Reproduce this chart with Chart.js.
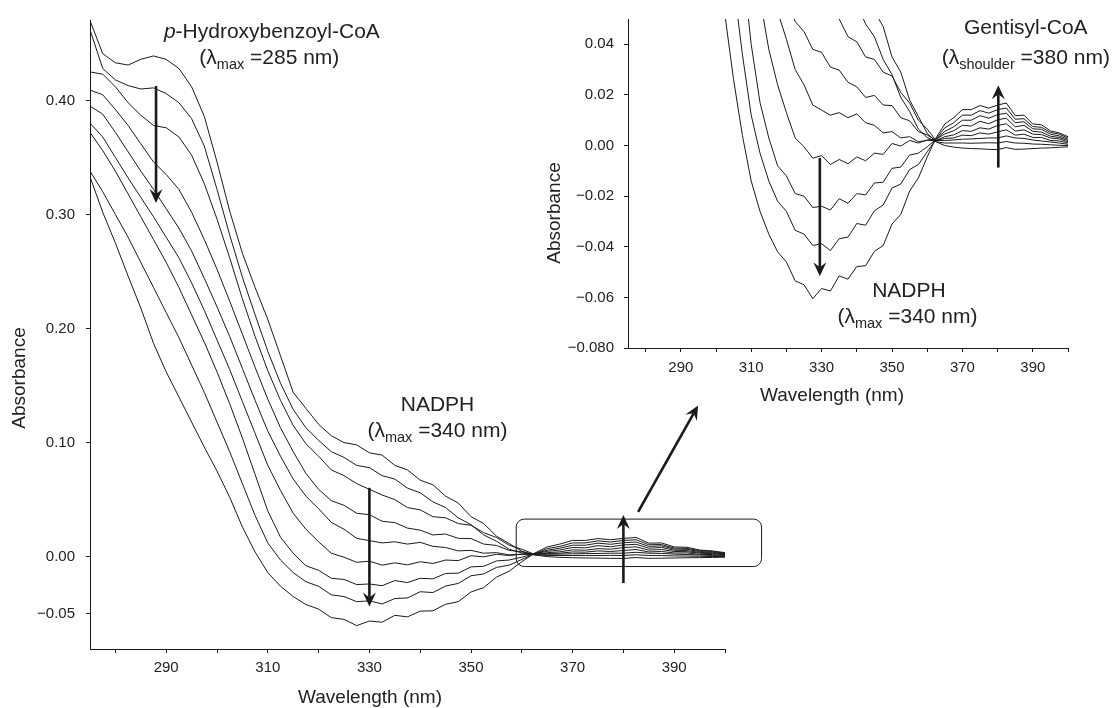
<!DOCTYPE html>
<html>
<head>
<meta charset="utf-8">
<script src="https://cdn.jsdelivr.net/npm/chart.js@4.4.0/dist/chart.umd.min.js"></script>
<style>
html, body { margin: 0; padding: 0; background: #fff; }
#wrap { position: relative; width: 1113px; height: 708px; }
#main { position: absolute; left: 0; top: 0; }
#inset { position: absolute; left: 540px; top: 0; }
</style>
</head>
<body>
<div id="wrap">
<canvas id="main" width="1113" height="708"></canvas>
<canvas id="inset" width="573" height="420"></canvas>
</div>
<script>
// wavelength grid (nm)
var wavelengths = [275, 277.5, 280, 282.5, 285, 287.5, 290, 292.5, 295, 297.5, 300, 302.5, 305, 307.5, 310, 312.5,
    315, 317.5, 320, 322.5, 325, 327.5, 330, 332.5, 335, 337.5, 340, 342.5, 345, 347.5, 350, 352.5, 355, 357.5,
    360, 362.5, 365, 367.5, 370, 372.5, 375, 377.5, 380, 382.5, 385, 387.5, 390, 392.5, 395, 397.5, 400];

// absorbance spectra, first scan to last scan
var scan1 = [0.470, 0.441, 0.433, 0.431, 0.436, 0.439, 0.436, 0.428, 0.412, 0.386, 0.346, 0.303, 0.266, 0.236, 0.208, 0.176,
    0.144, 0.130, 0.116, 0.106, 0.100, 0.098, 0.091, 0.089, 0.080, 0.076, 0.067, 0.063, 0.053, 0.047, 0.035, 0.029, 0.018, 0.0115,
    0.0048, 0.0015, 0.0, -0.0006, -0.001, -0.0012, -0.0013, -0.0015, -0.0016, -0.0008, -0.0015, -0.0014, -0.0012, -0.001, -0.0009, -0.0007, -0.0005];
var scan2 = [0.462, 0.428, 0.418, 0.413, 0.410, 0.411, 0.406, 0.398, 0.384, 0.360, 0.322, 0.282, 0.245, 0.212, 0.180, 0.152,
    0.129, 0.113, 0.102, 0.092, 0.087, 0.080, 0.078, 0.071, 0.068, 0.060, 0.056, 0.048, 0.043, 0.034, 0.028, 0.019, 0.0135, 0.0065,
    0.0032, 0.0015, 0.001, 0.001, 0.001, 0.0009, 0.001, 0.0011, 0.001, 0.0016, 0.001, 0.0009, 0.0006, 0.0005, 0.0003, 0.0001, 0.0];
var scan3 = [0.425, 0.423, 0.412, 0.398, 0.387, 0.378, 0.376, 0.368, 0.352, 0.327, 0.296, 0.262, 0.226, 0.193, 0.163, 0.137,
    0.115, 0.099, 0.088, 0.076, 0.071, 0.064, 0.059, 0.054, 0.050, 0.043, 0.041, 0.035, 0.034, 0.029, 0.0275, 0.021, 0.0168, 0.010,
    0.0065, 0.002, 0.002, 0.0022, 0.0025, 0.0026, 0.0028, 0.003, 0.003, 0.0038, 0.003, 0.0028, 0.0022, 0.0018, 0.0014, 0.001, 0.0005];
var scan4 = [0.409, 0.405, 0.392, 0.378, 0.362, 0.346, 0.335, 0.322, 0.302, 0.278, 0.252, 0.224, 0.195, 0.166, 0.138, 0.113,
    0.092, 0.073, 0.059, 0.049, 0.045, 0.038, 0.0368, 0.031, 0.0298, 0.025, 0.0232, 0.019, 0.0198, 0.016, 0.0158, 0.011, 0.0098, 0.0055,
    0.0042, 0.002, 0.0028, 0.003, 0.0041, 0.0039, 0.005, 0.0045, 0.0054, 0.0062, 0.0041, 0.0045, 0.0032, 0.0032, 0.002, 0.0018, 0.001];
var scan5 = [0.395, 0.388, 0.372, 0.355, 0.338, 0.322, 0.305, 0.288, 0.268, 0.244, 0.219, 0.193, 0.165, 0.137, 0.110, 0.088,
    0.068, 0.053, 0.042, 0.030, 0.024, 0.016, 0.014, 0.012, 0.013, 0.011, 0.0125, 0.009, 0.008, 0.005, 0.0055, 0.003, 0.0035, 0.0015,
    0.002, 0.002, 0.0035, 0.0042, 0.0059, 0.0056, 0.007, 0.0065, 0.0079, 0.0086, 0.0057, 0.0062, 0.0045, 0.0043, 0.003, 0.0026, 0.0015];
var scan6 = [0.380, 0.368, 0.350, 0.332, 0.315, 0.298, 0.280, 0.262, 0.240, 0.216, 0.190, 0.164, 0.136, 0.108, 0.080, 0.058,
    0.038, 0.024, 0.013, 0.003, -0.0005, -0.005, -0.004, -0.0075, -0.0055, -0.0072, -0.0045, -0.006, -0.003, -0.0035, 0.0008, -0.0002, 0.002, 0.001,
    0.0022, 0.0025, 0.0046, 0.0058, 0.008, 0.0077, 0.0096, 0.0086, 0.0102, 0.0108, 0.0074, 0.008, 0.0056, 0.0053, 0.0037, 0.0032, 0.002];
var scan7 = [0.372, 0.356, 0.338, 0.318, 0.298, 0.278, 0.258, 0.236, 0.212, 0.188, 0.162, 0.134, 0.104, 0.072, 0.040, 0.017,
    0.003, -0.008, -0.012, -0.019, -0.020, -0.0245, -0.024, -0.0255, -0.021, -0.0228, -0.019, -0.0195, -0.0148, -0.0145, -0.009, -0.0085, -0.0038, -0.003,
    -0.0005, 0.0025, 0.0056, 0.0074, 0.010, 0.010, 0.0118, 0.0108, 0.0122, 0.0128, 0.009, 0.0094, 0.0066, 0.0064, 0.0045, 0.0038, 0.0025];
var scan8 = [0.338, 0.320, 0.300, 0.280, 0.258, 0.236, 0.214, 0.192, 0.168, 0.144, 0.118, 0.092, 0.064, 0.036, 0.012, -0.003,
    -0.014, -0.022, -0.026, -0.0335, -0.035, -0.0395, -0.0388, -0.0415, -0.0368, -0.0362, -0.0308, -0.0315, -0.0258, -0.0235, -0.0168, -0.0152, -0.0095, -0.0075,
    -0.0025, 0.0025, 0.007, 0.009, 0.012, 0.012, 0.0138, 0.0128, 0.0142, 0.0148, 0.0104, 0.0106, 0.0075, 0.0072, 0.0052, 0.0045, 0.003];
var scan9 = [0.333, 0.302, 0.275, 0.246, 0.218, 0.187, 0.162, 0.140, 0.118, 0.096, 0.075, 0.052, 0.026, 0.004, -0.014, -0.026,
    -0.035, -0.042, -0.046, -0.0535, -0.055, -0.0605, -0.0565, -0.0575, -0.0515, -0.0528, -0.0478, -0.0475, -0.0418, -0.0395, -0.031, -0.0272, -0.018, -0.0128,
    -0.0045, 0.003, 0.0085, 0.011, 0.0142, 0.0142, 0.0158, 0.0148, 0.016, 0.0168, 0.0118, 0.012, 0.0085, 0.0082, 0.0058, 0.005, 0.0035];

var scans = [scan1, scan2, scan3, scan4, scan5, scan6, scan7, scan8, scan9];

// axis ticks
var xTicks = [280, 290, 300, 310, 320, 330, 340, 350, 360, 370, 380, 390, 400];
var xLabelled = [290, 310, 330, 350, 370, 390];
var mainYTicks = [-0.05, 0, 0.1, 0.2, 0.3, 0.4];
var insetYTicks = [-0.08, -0.06, -0.04, -0.02, 0, 0.02, 0.04];

var FONT = '"Liberation Sans", Arial, sans-serif';
var INK = '#1a1a1a';

function makeDatasets() {
    var sets = [];
    for (var i = 0; i < scans.length; i++) {
        var pts = [];
        for (var j = 0; j < wavelengths.length; j++) pts.push({ x: wavelengths[j], y: scans[i][j] });
        sets.push({ data: pts, borderColor: INK, borderWidth: 1, pointRadius: 0, tension: 0, fill: false });
    }
    return sets;
}

function minus(s) {
    return s.replace('-', '\u2212');
}

function arrow(ctx, x1, y1, x2, y2) {
    var a = Math.atan2(y2 - y1, x2 - x1);
    var c = Math.cos(a), s = Math.sin(a);
    var L = 14, W = 6.5, N = 9;
    ctx.save();
    ctx.strokeStyle = INK;
    ctx.fillStyle = INK;
    ctx.lineWidth = 2.6;
    ctx.beginPath();
    ctx.moveTo(x1, y1);
    ctx.lineTo(x2 - c * N, y2 - s * N);
    ctx.stroke();
    ctx.beginPath();
    ctx.moveTo(x2, y2);
    ctx.lineTo(x2 - c * L - s * W, y2 - s * L + c * W);
    ctx.lineTo(x2 - c * N, y2 - s * N);
    ctx.lineTo(x2 - c * L + s * W, y2 - s * L - c * W);
    ctx.closePath();
    ctx.fill();
    ctx.restore();
}

function centered(ctx, text, cx, base, size) {
    ctx.font = size + 'px ' + FONT;
    ctx.textAlign = 'center';
    ctx.textBaseline = 'alphabetic';
    ctx.fillText(text, cx, base);
}

// "(λ<sub> =rest)" centred on cx
function lambdaLabel(ctx, cx, base, sub, rest) {
    var big = '21px ' + FONT, small = '14.5px ' + FONT;
    ctx.font = big;
    var w1 = ctx.measureText('(\u03bb').width;
    var w3 = ctx.measureText(' =' + rest).width;
    ctx.font = small;
    var w2 = ctx.measureText(sub).width;
    var x = cx - (w1 + w2 + w3) / 2;
    ctx.textAlign = 'left';
    ctx.textBaseline = 'alphabetic';
    ctx.font = big;
    ctx.fillText('(\u03bb', x, base);
    x += w1;
    ctx.font = small;
    ctx.fillText(sub, x, base + 5);
    x += w2;
    ctx.font = big;
    ctx.fillText(' =' + rest, x, base);
}

function axisTitles(ctx, yx, yy, xx, xy) {
    ctx.save();
    ctx.fillStyle = '#222';
    ctx.font = '19px ' + FONT;
    ctx.textAlign = 'center';
    ctx.textBaseline = 'middle';
    ctx.translate(yx, yy);
    ctx.rotate(-Math.PI / 2);
    ctx.fillText('Absorbance', 0, 0);
    ctx.restore();
    ctx.save();
    ctx.fillStyle = '#222';
    centered(ctx, 'Wavelength (nm)', xx, xy, 19);
    ctx.restore();
}

var mainNotes = {
    id: 'mainNotes',
    afterDraw: function (chart) {
        var ctx = chart.ctx, x = chart.scales.x, y = chart.scales.y, area = chart.chartArea;
        ctx.save();
        ctx.fillStyle = '#222';
        // p-Hydroxybenzoyl-CoA label
        var cx = x.getPixelForValue(310.8), base = y.getPixelForValue(0.4548);
        ctx.font = 'italic 21px ' + FONT;
        var wp = ctx.measureText('p').width;
        ctx.font = '21px ' + FONT;
        var wr = ctx.measureText('-Hydroxybenzoyl-CoA').width;
        var sx = cx - (wp + wr) / 2;
        ctx.textAlign = 'left';
        ctx.font = 'italic 21px ' + FONT;
        ctx.fillText('p', sx, base);
        ctx.font = '21px ' + FONT;
        ctx.fillText('-Hydroxybenzoyl-CoA', sx + wp, base);
        lambdaLabel(ctx, x.getPixelForValue(310.3), y.getPixelForValue(0.432), 'max', '285 nm)');
        centered(ctx, 'NADPH', x.getPixelForValue(343.4), y.getPixelForValue(0.1275), 21);
        lambdaLabel(ctx, x.getPixelForValue(343.4), y.getPixelForValue(0.1048), 'max', '340 nm)');
        // arrows
        arrow(ctx, x.getPixelForValue(288), y.getPixelForValue(0.4126), x.getPixelForValue(288), y.getPixelForValue(0.31));
        arrow(ctx, x.getPixelForValue(330), y.getPixelForValue(0.0603), x.getPixelForValue(330), y.getPixelForValue(-0.0437));
        arrow(ctx, x.getPixelForValue(380), y.getPixelForValue(-0.0232), x.getPixelForValue(380), y.getPixelForValue(0.0364));
        arrow(ctx, x.getPixelForValue(382.9), y.getPixelForValue(0.0393), x.getPixelForValue(394.7), y.getPixelForValue(0.1325));
        // zoom box
        var bx1 = x.getPixelForValue(358.9), bx2 = x.getPixelForValue(407.2);
        var by1 = y.getPixelForValue(0.0329), by2 = y.getPixelForValue(-0.0087);
        ctx.strokeStyle = INK;
        ctx.lineWidth = 1;
        ctx.beginPath();
        ctx.roundRect(bx1, by1, bx2 - bx1, by2 - by1, 8);
        ctx.stroke();
        ctx.restore();
        axisTitles(ctx, 20, 378, area.left + 280, area.bottom + 54);
    }
};

var insetNotes = {
    id: 'insetNotes',
    afterDraw: function (chart) {
        var ctx = chart.ctx, x = chart.scales.x, y = chart.scales.y, area = chart.chartArea;
        ctx.save();
        ctx.fillStyle = '#222';
        centered(ctx, 'Gentisyl-CoA', x.getPixelForValue(388), y.getPixelForValue(0.0439), 21);
        lambdaLabel(ctx, x.getPixelForValue(388), y.getPixelForValue(0.0322), 'shoulder', '380 nm)');
        centered(ctx, 'NADPH', x.getPixelForValue(354.8), y.getPixelForValue(-0.0598), 21);
        lambdaLabel(ctx, x.getPixelForValue(354.4), y.getPixelForValue(-0.0703), 'max', '340 nm)');
        arrow(ctx, x.getPixelForValue(329.5), y.getPixelForValue(-0.0049), x.getPixelForValue(329.5), y.getPixelForValue(-0.0516));
        arrow(ctx, x.getPixelForValue(380.2), y.getPixelForValue(-0.0087), x.getPixelForValue(380.2), y.getPixelForValue(0.0238));
        ctx.restore();
        axisTitles(ctx, 15, 213, area.left + 204, area.bottom + 53);
    }
};

function xScale(labelPad, height) {
    return {
        type: 'linear',
        min: 275,
        max: 400,
        afterBuildTicks: function (scale) {
            scale.ticks = xTicks.map(function (v) { return { value: v }; });
        },
        afterFit: function (scale) { scale.height = height; },
        grid: { display: true, drawOnChartArea: false, drawTicks: true, tickLength: 4, color: INK },
        border: { display: true, color: INK, width: 1 },
        ticks: {
            padding: labelPad,
            maxRotation: 0,
            autoSkip: false,
            color: '#222',
            font: { family: FONT, size: 15 },
            callback: function (v) { return xLabelled.indexOf(v) >= 0 ? String(v) : ''; }
        }
    };
}

function yScale(min, max, tickList, width, labelPad, fmt) {
    return {
        type: 'linear',
        min: min,
        max: max,
        afterBuildTicks: function (scale) {
            scale.ticks = tickList.map(function (v) { return { value: v }; });
        },
        afterFit: function (scale) { scale.width = width; },
        grid: { display: true, drawOnChartArea: false, drawTicks: true, tickLength: 4, color: INK },
        border: { display: true, color: INK, width: 1 },
        ticks: {
            padding: labelPad,
            autoSkip: false,
            color: '#222',
            font: { family: FONT, size: 15 },
            callback: fmt
        }
    };
}

new Chart('main', {
    type: 'line',
    data: { datasets: makeDatasets() },
    options: {
        responsive: false,
        animation: false,
        layout: { padding: { left: 0, top: 18, right: 388, bottom: 0 } },
        plugins: { legend: { display: false }, tooltip: { enabled: false } },
        scales: {
            x: xScale(6, 59),
            y: yScale(-0.081, 0.4705, mainYTicks, 90, 11, function (v) {
                return minus(v.toFixed(2));
            })
        }
    },
    plugins: [mainNotes]
});

new Chart('inset', {
    type: 'line',
    data: { datasets: makeDatasets() },
    options: {
        responsive: false,
        animation: false,
        layout: { padding: { left: 0, top: 15, right: 45, bottom: 0 } },
        plugins: { legend: { display: false }, tooltip: { enabled: false } },
        scales: {
            x: xScale(7, 72),
            y: yScale(-0.08, 0.05, insetYTicks, 88, 10, function (v) {
                if (Math.abs(v + 0.08) < 1e-9) return '\u22120.080';
                return minus(v.toFixed(2));
            })
        }
    },
    plugins: [insetNotes]
});
</script>
</body>
</html>
